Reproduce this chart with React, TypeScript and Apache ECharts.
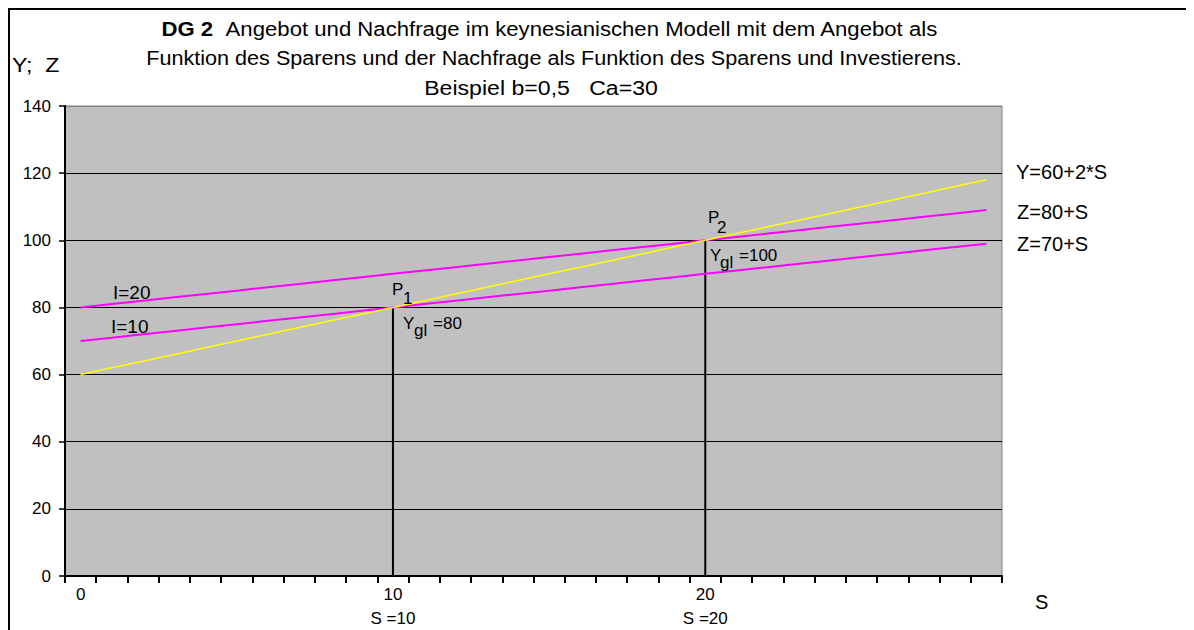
import React, { useEffect, useRef } from "react";
import * as echarts from "echarts";

// ---- data ----
const S_CATEGORIES = [
  "0", "1", "2", "3", "4", "5", "6", "7", "8", "9",
  "10", "11", "12", "13", "14", "15", "16", "17", "18", "19",
  "20", "21", "22", "23", "24", "25", "26", "27", "28", "29",
];
// Y = 60 + 2*S
const Y_SUPPLY = [
  60, 62, 64, 66, 68, 70, 72, 74, 76, 78,
  80, 82, 84, 86, 88, 90, 92, 94, 96, 98,
  100, 102, 104, 106, 108, 110, 112, 114, 116, 118,
];
// Z = 80 + S  (I = 20)
const Z_I20 = [
  80, 81, 82, 83, 84, 85, 86, 87, 88, 89,
  90, 91, 92, 93, 94, 95, 96, 97, 98, 99,
  100, 101, 102, 103, 104, 105, 106, 107, 108, 109,
];
// Z = 70 + S  (I = 10)
const Z_I10 = [
  70, 71, 72, 73, 74, 75, 76, 77, 78, 79,
  80, 81, 82, 83, 84, 85, 86, 87, 88, 89,
  90, 91, 92, 93, 94, 95, 96, 97, 98, 99,
];
const EQ1 = [["10", 0], ["10", 80]];
const EQ2 = [["20", 0], ["20", 100]];
const X_LABELED = ["0", "10", "20"];
const Y_MIN = 0;
const Y_MAX = 140;
const Y_STEP = 20;

const FONT = "Liberation Sans";

export default function App() {
  const ref = useRef<HTMLDivElement>(null);
  useEffect(() => {
    if (!ref.current) return;
    const chart = echarts.init(ref.current, null, { renderer: "svg" });
    const txt = (
      x: number,
      y: number,
      text: string,
      size = 17,
      align = "left",
      scaleX = 1,
      extra: any = {}
    ) => ({
      type: "text",
      x,
      y,
      scaleX,
      z: 100,
      style: {
        text,
        fill: "#000",
        fontSize: size,
        fontFamily: FONT,
        align,
        verticalAlign: "middle",
        ...extra,
      },
    });
    const option: any = {
      animation: false,
      backgroundColor: "#fff",
      textStyle: { fontFamily: FONT },
      grid: {
        left: 57,
        top: 98,
        right: 192,
        bottom: 48,
        show: true,
        backgroundColor: "#C0C0C0",
        borderColor: "#808080",
        borderWidth: 1,
      },
      xAxis: {
        type: "category",
        data: S_CATEGORIES,
        boundaryGap: true,
        axisLine: { lineStyle: { color: "#000", width: 2 } },
        axisTick: { show: true, interval: 0, length: 7, lineStyle: { color: "#000", width: 2 } },
        axisLabel: {
          interval: (i: number, v: string) => X_LABELED.indexOf(v) >= 0,
          formatter: (v: string) => (v === "0" ? "0" : `${v}\nS =${v}`),
          color: "#000",
          fontSize: 17,
          fontFamily: FONT,
          lineHeight: 24,
          margin: 6,
        },
        splitLine: { show: false },
      },
      yAxis: {
        type: "value",
        min: Y_MIN,
        max: Y_MAX,
        interval: Y_STEP,
        axisLine: { show: true, lineStyle: { color: "#000", width: 2 } },
        axisTick: { show: true, length: 6, lineStyle: { color: "#000", width: 1.5 } },
        axisLabel: { color: "#000", fontSize: 17, fontFamily: FONT, margin: 14 },
        splitLine: {
          show: true,
          lineStyle: {
            color: ["#000", "#000", "#000", "#000", "#000", "#000", "#000", "#808080"],
            width: 1,
          },
        },
      },
      series: [
        {
          type: "line",
          data: EQ1,
          symbol: "none",
          lineStyle: { color: "#000", width: 2 },
          z: 2,
        },
        {
          type: "line",
          data: EQ2,
          symbol: "none",
          lineStyle: { color: "#000", width: 2 },
          z: 2,
        },
        {
          type: "line",
          data: Z_I10,
          symbol: "none",
          lineStyle: { color: "#FF00FF", width: 2 },
          z: 3,
        },
        {
          type: "line",
          data: Z_I20,
          symbol: "none",
          lineStyle: { color: "#FF00FF", width: 2 },
          z: 3,
        },
        {
          type: "line",
          data: Y_SUPPLY,
          symbol: "none",
          lineStyle: { color: "#FFFF00", width: 1.5 },
          z: 4,
        },
      ],
      graphic: [
        { type: "line", shape: { x1: 0, y1: 1, x2: 1186, y2: 1 }, style: { stroke: "#000", lineWidth: 2 } },
        { type: "line", shape: { x1: 1, y1: 0, x2: 1, y2: 622 }, style: { stroke: "#000", lineWidth: 2 } },
        {
          type: "text",
          x: 542,
          y: 21,
          scaleX: 1.055,
          z: 100,
          style: {
            text: "{b|DG 2}  Angebot und Nachfrage im keynesianischen Modell mit dem Angebot als",
            fontSize: 21,
            fontFamily: FONT,
            fill: "#000",
            align: "center",
            verticalAlign: "middle",
            rich: { b: { fontWeight: "bold", fontSize: 21, fontFamily: FONT } },
          },
        },
        txt(546, 50, "Funktion des Sparens und der Nachfrage als Funktion des Sparens und Investierens.", 21, "center", 1.03),
        txt(533, 80, "Beispiel b=0,5   Ca=30", 21, "center", 1.1),
        txt(4, 57, "Y;  Z", 21, "left", 1.1),
        txt(1008, 164, "Y=60+2*S", 20),
        txt(1009, 204, "Z=80+S", 20),
        txt(1009, 236, "Z=70+S", 20),
        txt(1027, 594, "S", 20),
        txt(105, 284, "I=20", 19),
        txt(103, 318, "I=10", 19),
        // P1
        txt(384, 281, "P", 17),
        txt(395, 290, "1", 17),
        txt(395, 315, "Y", 17),
        txt(406, 322, "gl", 17),
        txt(425, 315, "=80", 17),
        // P2
        txt(700, 209, "P", 17),
        txt(709, 219, "2", 17),
        txt(702, 247, "Y", 17),
        txt(712, 254, "gl", 17),
        txt(731, 247, "=100", 17),
      ],
    };
    chart.setOption(option);
    return () => chart.dispose();
  }, []);
  return <div ref={ref} style={{ width: 1186, height: 622 }} />;
}
